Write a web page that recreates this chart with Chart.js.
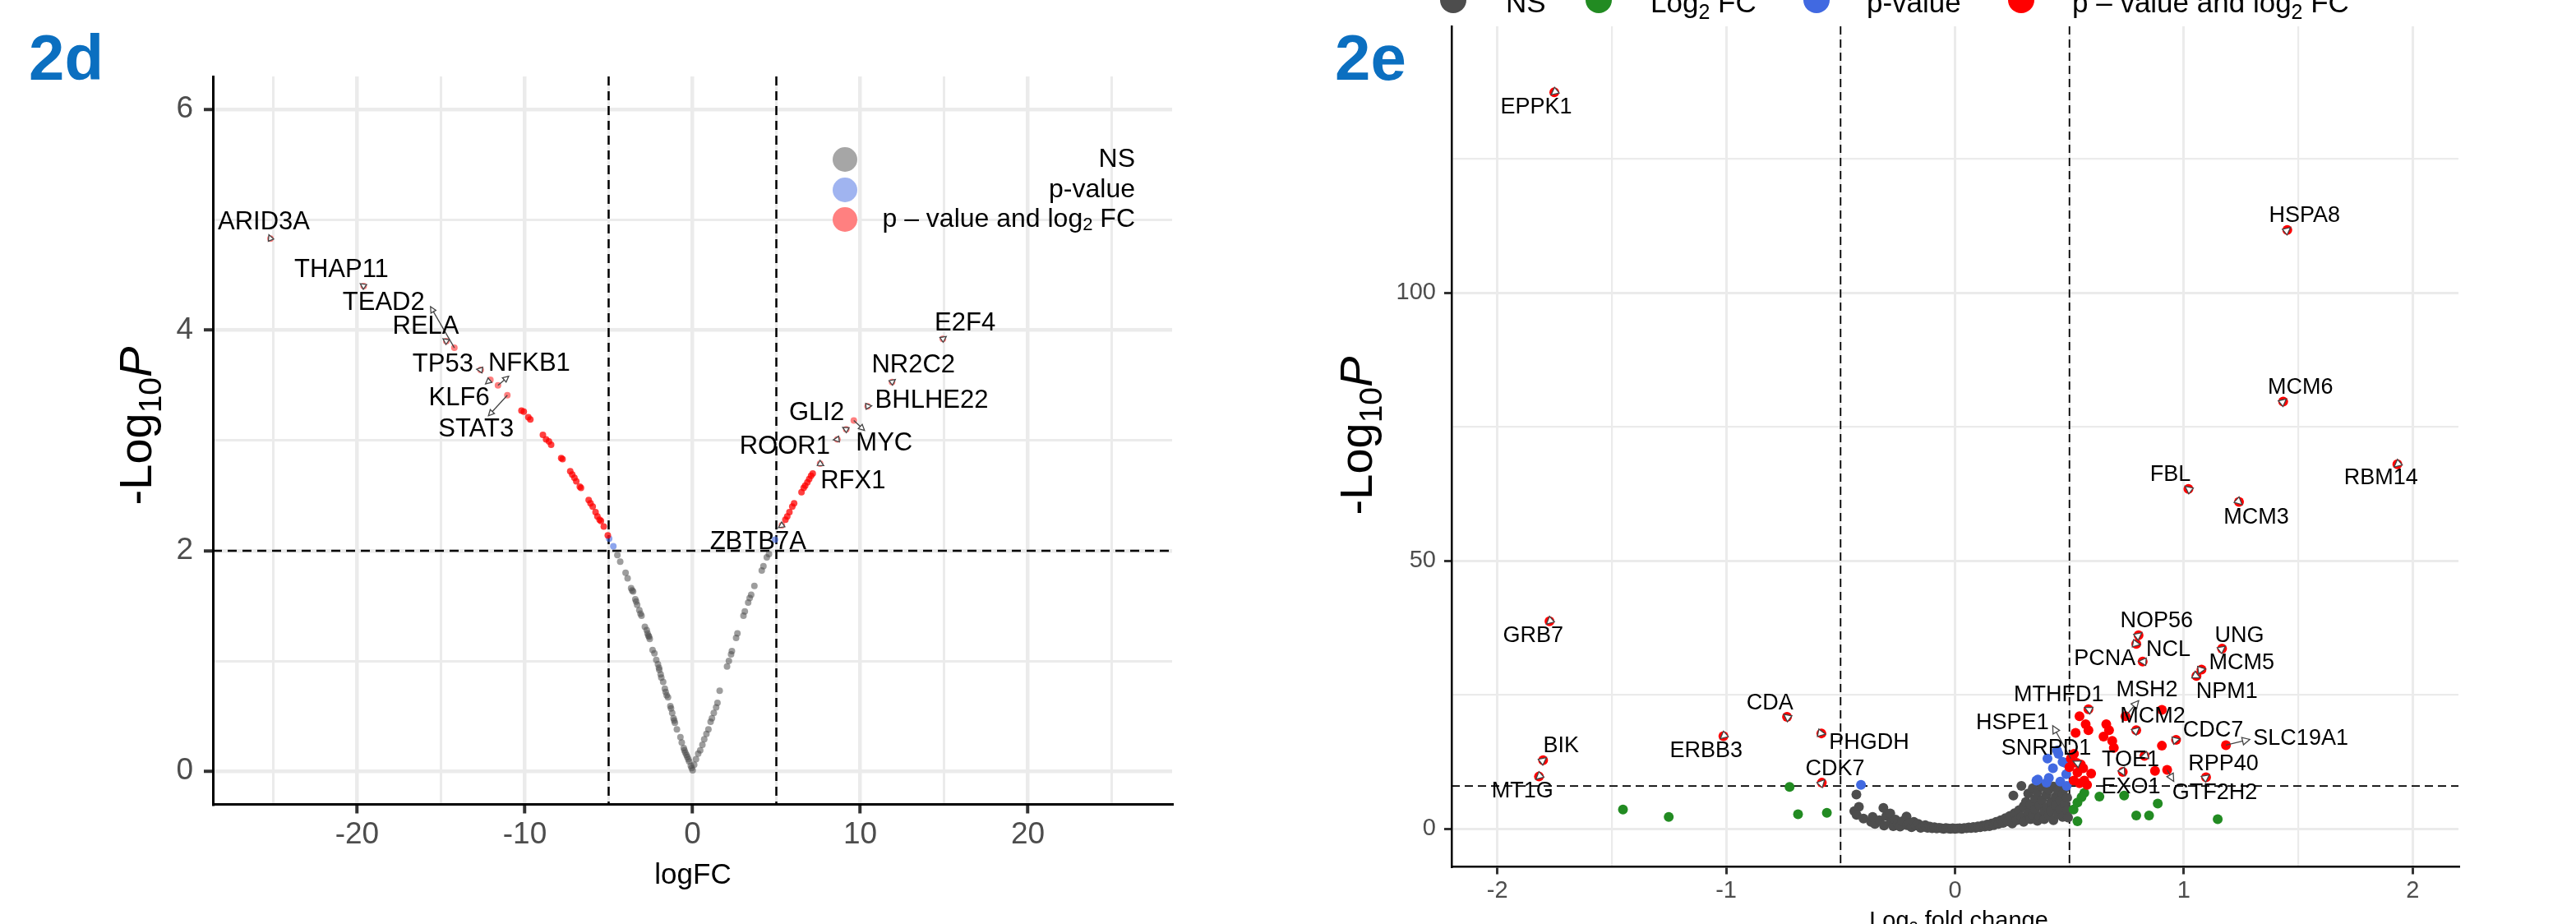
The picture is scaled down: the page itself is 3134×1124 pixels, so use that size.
<!DOCTYPE html>
<html>
<head>
<meta charset="utf-8">
<script src="https://cdn.jsdelivr.net/npm/chart.js@4.4.0/dist/chart.umd.min.js"></script>
<style>
  html, body { margin: 0; padding: 0; background: #fff; }
  #wrap { position: relative; width: 3134px; height: 1124px; overflow: hidden; }
  #c2d { position: absolute; left: 0; top: 0; }
  #c2e { position: absolute; left: 1568px; top: 0; }
</style>
</head>
<body>
<div id="wrap">
  <canvas id="c2d" width="1568" height="1124"></canvas>
  <canvas id="c2e" width="1566" height="1124"></canvas>
</div>
<script>
// ===== 2d DATA =====
const dNsX = [-4.48, -4.31, -3.99, -3.87, -3.66, -3.54, -3.41, -3.30, -3.17, -3.04,
  -2.84, -2.73, -2.63, -2.55, -2.38, -2.27, -2.16, -2.06, -1.98, -1.86,
  -1.75, -1.65, -1.54, -1.46, -1.32, -1.21, -1.13, -1.05, -0.93, -0.72,
  -0.64, -0.52, -0.43, -0.31, -0.20, -0.10, 0.01,
  -3.60, -3.36, -3.10, -2.68, -2.59, -2.00, -1.90, -1.60, -1.28, -1.09,
  -0.48, -0.36, -0.25, -0.05,
  0.10, 0.21, 0.34, 0.46, 0.59, 0.70, 0.83, 0.95, 1.08, 1.16,
  1.27, 1.41, 1.49, 1.62, 2.06, 2.17, 2.30, 2.35, 2.60, 2.68,
  3.04, 3.12, 3.32, 3.41, 3.50, 3.69, 4.13, 4.23, 4.43, 4.56];
const dNsY = [1.96, 1.90, 1.80, 1.75, 1.66, 1.63, 1.56, 1.51, 1.46, 1.41,
  1.31, 1.28, 1.23, 1.20, 1.10, 1.07, 1.01, 0.97, 0.92, 0.85,
  0.81, 0.75, 0.69, 0.67, 0.59, 0.53, 0.48, 0.44, 0.38, 0.31,
  0.26, 0.21, 0.17, 0.13, 0.09, 0.05, 0.01,
  1.64, 1.54, 1.43, 1.25, 1.22, 0.94, 0.88, 0.72, 0.57, 0.46,
  0.19, 0.15, 0.11, 0.03,
  0.06, 0.11, 0.16, 0.19, 0.24, 0.29, 0.34, 0.38, 0.45, 0.48,
  0.53, 0.58, 0.62, 0.73, 0.95, 1.00, 1.06, 1.09, 1.21, 1.25,
  1.41, 1.45, 1.53, 1.57, 1.60, 1.68, 1.82, 1.86, 1.94, 1.97];
const dPvX = [-4.97, -4.72, 4.92];
const dPvY = [2.11, 2.04, 2.10];
const dSigX = [-10.20, -10.06, -9.79, -9.67, -8.92, -8.73, -8.56, -8.43, -7.83, -7.75,
  -7.29, -7.17, -7.04, -6.93, -6.72, -6.65, -6.19, -6.08, -5.95, -5.78,
  -5.67, -5.54, -5.46, -5.29, -5.05,
  5.54, 5.65, 5.78, 5.95, 6.06, 6.50, 6.63, 6.72, 6.85, 6.96, 7.07, 7.17];
const dSigY = [3.27, 3.26, 3.21, 3.19, 3.05, 3.01, 2.99, 2.96, 2.84, 2.83,
  2.72, 2.69, 2.66, 2.63, 2.58, 2.57, 2.46, 2.43, 2.40, 2.35,
  2.31, 2.28, 2.27, 2.22, 2.14,
  2.28, 2.31, 2.35, 2.40, 2.43, 2.53, 2.57, 2.59, 2.62, 2.65, 2.68, 2.70];
const dGenes = ['ARID3A', 'THAP11', 'TEAD2', 'RELA', 'TP53', 'NFKB1', 'KLF6', 'STAT3',
  'E2F4', 'NR2C2', 'BHLHE22', 'GLI2', 'MYC', 'ROOR1', 'RFX1', 'ZBTB7A'];
const dGeneX = [-25.17, -19.61, -14.20, -14.68, -12.63, -11.60, -12.05, -11.04,
  14.93, 11.90, 10.44, 9.17, 9.62, 8.64, 7.61, 5.33];
const dGeneY = [4.83, 4.40, 3.84, 3.90, 3.64, 3.50, 3.55, 3.41,
  3.92, 3.53, 3.31, 3.10, 3.18, 3.01, 2.79, 2.23];
const dXTicks = [-20, -10, 0, 10, 20];
const dXMinor = [-25, -15, -5, 5, 15, 25];
const dYTicks = [0, 2, 4, 6];
const dYMinor = [1, 3, 5];
const dCutFC = 5, dCutP = 2;

// ===== 2e DATA =====
const eNsX = [-0.431, -0.42, -0.44, -0.43, -0.40, -0.367, -0.36, -0.35, -0.33, -0.313,
  -0.31, -0.30, -0.283, -0.28, -0.27, -0.26, -0.25, -0.24, -0.23, -0.212,
  -0.21, -0.20, -0.19, -0.18, -0.17, -0.16, -0.15, -0.14, -0.13, -0.12,
  -0.11, -0.10, -0.09, -0.08, -0.07, -0.06, -0.05, -0.04, -0.03, -0.02,
  -0.01, 0.00, 0.01, 0.02, 0.03, 0.04, 0.05, 0.06, 0.07, 0.08,
  0.09, 0.10, 0.11, 0.12, 0.13, 0.14, 0.15, 0.16, 0.17, 0.18,
  0.19, 0.20, 0.21, 0.22, 0.23, 0.24, 0.25, 0.255, 0.26, 0.27,
  0.28, 0.29, 0.29, 0.30, 0.30, 0.31, 0.32, 0.32, 0.33, 0.33,
  0.34, 0.34, 0.35, 0.35, 0.36, 0.36, 0.37, 0.37, 0.38, 0.38,
  0.39, 0.39, 0.40, 0.40, 0.41, 0.41, 0.42, 0.42, 0.43, 0.43,
  0.44, 0.44, 0.45, 0.45, 0.46, 0.46, 0.47, 0.47, 0.48, 0.48,
  0.49, 0.49, 0.494];
const eNsY = [6.4, 4.1, 3.3, 2.6, 1.9, 1.3, 2.2, 0.9, 1.6, 3.9,
  0.6, 2.4, 2.85, 1.2, 0.5, 1.7, 0.9, 0.4, 1.4, 2.3,
  0.7, 1.1, 0.3, 1.3, 0.6, 0.9, 0.2, 0.5, 0.7, 0.2,
  0.4, 0.1, 0.3, 0.05, 0.2, 0.1, 0.0, 0.15, 0.05, 0.0,
  0.1, 0.0, 0.05, 0.1, 0.0, 0.15, 0.1, 0.25, 0.15, 0.35,
  0.2, 0.45, 0.3, 0.6, 0.4, 0.8, 0.5, 1.0, 0.7, 1.3,
  0.9, 1.6, 1.1, 2.0, 1.4, 2.4, 1.0, 6.2, 2.9, 1.6,
  3.5, 8.0, 2.2, 4.2, 1.3, 5.0, 3.0, 6.6, 1.8, 4.5,
  7.6, 2.6, 5.6, 3.6, 1.5, 6.8, 4.4, 2.2, 7.9, 5.4,
  3.2, 1.8, 6.4, 4.0, 7.3, 2.6, 5.0, 3.4, 7.9, 1.6,
  6.0, 4.4, 2.8, 7.2, 5.3, 3.6, 6.6, 2.2, 4.6, 7.6,
  3.4, 5.8, 2.1];
const eFcX = [-1.451, -1.251, -0.723, -0.686, -0.560, 0.518, 0.535, 0.535, 0.553, 0.565,
  0.631, 0.739, 0.792, 0.848, 0.886, 1.148];
const eFcY = [3.6, 2.2, 7.8, 2.7, 3.0, 3.6, 4.9, 1.4, 5.9, 6.7,
  6.0, 6.2, 2.5, 2.5, 4.7, 1.8];
const ePvX = [-0.411, 0.356, 0.362, 0.400, 0.404, 0.410, 0.428, 0.446, 0.452, 0.460,
  0.470, 0.482, 0.486, 0.488];
const ePvY = [8.2, 9.0, 9.2, 8.6, 13.1, 9.5, 11.3, 14.6, 14.0, 8.8,
  12.5, 12.3, 10.2, 8.0];
const eSigX = [0.500, 0.519, 0.520, 0.527, 0.535, 0.544, 0.544, 0.550, 0.560, 0.565,
  0.571, 0.577, 0.583, 0.595, 0.649, 0.661, 0.673, 0.687, 0.694, 0.874,
  0.904, 0.904];
const eSigY = [11.5, 9.0, 14.0, 17.9, 10.5, 21.0, 8.5, 12.0, 11.3, 9.0,
  19.5, 8.2, 18.4, 10.3, 17.2, 19.5, 18.4, 16.4, 15.1, 10.8,
  22.2, 15.5];
const eGenes = ['EPPK1', 'HSPA8', 'MCM6', 'RBM14', 'FBL', 'MCM3', 'GRB7', 'NOP56', 'NCL', 'PCNA',
  'UNG', 'MCM5', 'NPM1', 'MTHFD1', 'MSH2', 'MCM2', 'CDC7', 'SLC19A1', 'TOE1', 'EXO1',
  'GTF2H2', 'RPP40', 'HSPE1', 'SNRPD1', 'BIK', 'MT1G', 'ERBB3', 'CDA', 'PHGDH', 'CDK7'];
const eGeneX = [-1.751, 1.452, 1.434, 1.933, 1.020, 1.241, -1.772, 0.802, 0.792, 0.820,
  1.167, 1.077, 1.055, 0.583, 0.745, 0.792, 0.966, 1.184, 0.828, 0.733,
  0.927, 1.097, 0.506, 0.532, -1.800, -1.818, -1.012, -0.734, -0.584, -0.582];
const eGeneY = [137.4, 111.7, 79.7, 68.0, 63.4, 61.0, 38.7, 36.1, 34.5, 31.2,
  33.6, 29.7, 28.5, 22.3, 21.0, 18.4, 16.6, 15.6, 13.6, 10.6,
  11.0, 9.6, 13.1, 12.3, 12.8, 9.75, 17.3, 20.9, 17.8, 8.6];
const eXTicks = [-2, -1, 0, 1, 2];
const eXMinor = [-1.5, -0.5, 0.5, 1.5];
const eYTicks = [0, 50, 100];
const eYMinor = [25, 75, 125];
const eCutFC = 0.5, eCutP = 8;

// label placement: [dx, dy] from the point in px, optional arrow tip [tx, ty]
const dLabelPos = {
  ARID3A: [-8, -20], THAP11: [-27, -19], TEAD2: [-86, -55, -29, -50], RELA: [-25, -18],
  TP53: [-46, -6], NFKB1: [38, -26, 13, -11], KLF6: [-38, 22, -6, 5], STAT3: [-38, 42, -23, 25],
  E2F4: [27, -19], NR2C2: [26, -20], BHLHE22: [78, -7], GLI2: [-36, -20],
  MYC: [37, 28, 13, 12], ROOR1: [-64, 9], RFX1: [40, 22], ZBTB7A: [-29, 20]
};
const eLabelPos = {
  EPPK1: [-22, 18], HSPA8: [21, -17], MCM6: [21, -17], RBM14: [-20, 17], FBL: [-22, -17],
  MCM3: [21, 19], GRB7: [-20, 18], NOP56: [22, -17], NCL: [39, 7], PCNA: [-46, -3],
  UNG: [21, -16], MCM5: [49, -8], NPM1: [37, 19], MTHFD1: [-36, -17], MSH2: [26, -32, 16, -19],
  MCM2: [20, -17], CDC7: [45, -11], SLC19A1: [91, -8, 29, -7], TOE1: [-17, 5], EXO1: [10, 18],
  GTF2H2: [58, 28, 8, 14], RPP40: [21, -16], HSPE1: [-71, -43, -22, -40], SNRPD1: [-37, -17],
  BIK: [22, -17], MT1G: [-20, 18], ERBB3: [-21, 18], CDA: [-21, -16], PHGDH: [58, 11], CDK7: [16, -17]
};

const FONT = "'Liberation Sans', Arial, Helvetica, sans-serif";

function pts(xs, ys) { return xs.map((x, i) => ({ x: x, y: ys[i] })); }

function axis(min, max, major, minor, o) {
  const all = major.concat(minor).sort((a, b) => a - b);
  const isMajor = v => major.indexOf(v) >= 0;
  return {
    type: 'linear', min: min, max: max,
    afterBuildTicks: s => { s.ticks = all.map(v => ({ value: v })); },
    afterFit: s => { if (o.width) s.width = o.width; if (o.height) s.height = o.height; },
    ticks: {
      autoSkip: false, maxRotation: 0, padding: o.pad, color: '#4D4D4D',
      font: { family: FONT, size: o.font },
      callback: v => isMajor(v) ? String(v) : ''
    },
    grid: {
      color: '#EBEBEB',
      lineWidth: c => (c.tick && isMajor(c.tick.value)) ? o.major : o.minor,
      tickLength: o.tick, tickWidth: o.tickW,
      tickColor: c => (c.tick && isMajor(c.tick.value)) ? '#333333' : 'rgba(0,0,0,0)'
    },
    border: { display: true, color: '#000000', width: o.border }
  };
}

// text in pieces: [text, 0 normal | 1 subscript | 2 italic]
function richText(ctx, parts, x, y, align, size) {
  const fontOf = p => (p[1] === 2 ? 'italic ' : '') + Math.round(p[1] === 1 ? size * 0.7 : size) + 'px ' + FONT;
  let w = 0;
  parts.forEach(p => { ctx.font = fontOf(p); w += ctx.measureText(p[0]).width; });
  let cx = align === 'center' ? x - w / 2 : (align === 'right' ? x - w : x);
  ctx.textAlign = 'left';
  parts.forEach(p => {
    ctx.font = fontOf(p);
    ctx.fillText(p[0], cx, y + (p[1] === 1 ? size * 0.22 : 0));
    cx += ctx.measureText(p[0]).width;
  });
}

function arrowHead(ctx, tx, ty, ang, len, half) {
  const bx = tx - Math.cos(ang) * len, by = ty - Math.sin(ang) * len;
  const nx = -Math.sin(ang) * half, ny = Math.cos(ang) * half;
  ctx.beginPath();
  ctx.moveTo(tx, ty);
  ctx.lineTo(bx + nx, by + ny);
  ctx.lineTo(bx - nx, by - ny);
  ctx.closePath();
  ctx.fillStyle = '#ffffff';
  ctx.fill();
  ctx.stroke();
}

function volcanoPlugin(o) {
  return {
    id: 'volcano',
    beforeDatasetsDraw(chart) {
      const { ctx, chartArea: a, scales: { x, y } } = chart;
      ctx.save();
      ctx.strokeStyle = '#000';
      ctx.lineWidth = o.dashW;
      ctx.setLineDash(o.dash);
      [-o.cutFC, o.cutFC].forEach(v => {
        const px = x.getPixelForValue(v);
        ctx.beginPath(); ctx.moveTo(px, a.top); ctx.lineTo(px, a.bottom); ctx.stroke();
      });
      const py = y.getPixelForValue(o.cutP);
      ctx.beginPath(); ctx.moveTo(a.left, py); ctx.lineTo(a.right, py); ctx.stroke();
      ctx.restore();
    },
    afterDatasetsDraw(chart) {
      const { ctx, scales: { x, y } } = chart;
      ctx.save();
      ctx.textAlign = 'center';
      ctx.textBaseline = 'middle';
      o.genes.forEach((g, i) => {
        const px = x.getPixelForValue(o.gx[i]), py = y.getPixelForValue(o.gy[i]);
        const L = o.pos[g];
        let ex, ey;
        if (L.length > 2) { ex = px + L[2]; ey = py + L[3]; }
        else { const d = Math.hypot(L[0], L[1]); ex = px + L[0] / d * o.tipR; ey = py + L[1] / d * o.tipR; }
        const ang = Math.atan2(ey - py, ex - px);
        ctx.strokeStyle = '#444';
        ctx.lineWidth = 1.3;
        if (Math.hypot(ex - px, ey - py) > 12) {
          ctx.beginPath(); ctx.moveTo(px, py); ctx.lineTo(ex, ey); ctx.stroke();
        }
        arrowHead(ctx, ex, ey, ang, o.headLen, o.headHalf);
        ctx.fillStyle = '#000';
        ctx.font = o.labelFont + 'px ' + FONT;
        ctx.fillText(g, px + L[0], py + L[1]);
      });
      ctx.restore();
    },
    afterDraw(chart) {
      const ctx = chart.ctx;
      ctx.save();
      // panel tag
      ctx.fillStyle = '#0B6FC0';
      ctx.font = 'bold 78px ' + FONT;
      ctx.textAlign = 'left';
      ctx.textBaseline = 'alphabetic';
      ctx.fillText(o.tag, o.tagX, 97);
      // axis titles
      ctx.fillStyle = '#000';
      richText(ctx, o.xTitle, o.xTitleX, o.xTitleY, 'center', o.xTitleSize);
      ctx.save();
      ctx.translate(o.yTitleX, o.yTitleY);
      ctx.rotate(-Math.PI / 2);
      richText(ctx, [['-Log', 0], ['10', 1], ['P', 2]], 0, 0, 'center', 56);
      ctx.restore();
      // legend
      o.legend.forEach(it => {
        ctx.beginPath();
        ctx.arc(it.cx, it.cy, it.r, 0, Math.PI * 2);
        ctx.fillStyle = it.color;
        ctx.fill();
        ctx.fillStyle = '#000';
        ctx.textBaseline = it.base;
        richText(ctx, it.text, it.tx, it.ty, it.align, it.size);
      });
      ctx.restore();
    }
  };
}

function scatterSet(data, color, r) {
  return { data: data, backgroundColor: color, pointBackgroundColor: color, borderWidth: 0,
    pointBorderWidth: 0, pointRadius: r, pointHoverRadius: r, showLine: false };
}

const lblLog2 = [['p \u2013 value and log', 0], ['2', 1], [' FC', 0]];

// ===== 2d =====
new Chart(document.getElementById('c2d'), {
  type: 'scatter',
  data: {
    datasets: [
      scatterSet(pts(dGeneX, dGeneY), 'rgba(255,0,0,0.5)', 4),
      scatterSet(pts(dSigX, dSigY), 'rgba(255,0,0,0.75)', 4),
      scatterSet(pts(dPvX, dPvY), 'rgba(65,105,225,0.6)', 4),
      scatterSet(pts(dNsX, dNsY), 'rgba(77,77,77,0.55)', 4)
    ]
  },
  options: {
    responsive: false, animation: false, events: [],
    layout: { padding: { left: 0, top: 93, right: 142, bottom: 0 } },
    plugins: { legend: { display: false }, tooltip: { enabled: false } },
    scales: {
      x: axis(-28.6, 28.6, dXTicks, dXMinor, { height: 145.5, pad: 4, font: 37, major: 4.5, minor: 3, tick: 11, tickW: 4, border: 3 }),
      y: axis(-0.3, 6.3, dYTicks, dYMinor, { width: 259, pad: 13, font: 37, major: 4.5, minor: 3, tick: 11, tickW: 4, border: 3 })
    }
  },
  plugins: [volcanoPlugin({
    cutFC: dCutFC, cutP: dCutP, dash: [11, 7], dashW: 2.5,
    genes: dGenes, gx: dGeneX, gy: dGeneY, pos: dLabelPos, labelFont: 31,
    tipR: 5, headLen: 7, headHalf: 3.5,
    tag: '2d', tagX: 35,
    xTitle: [['logFC', 0]], xTitleX: 843, xTitleY: 1075, xTitleSize: 35,
    yTitleX: 184, yTitleY: 518,
    legend: [
      { cx: 1028, cy: 194, r: 15, color: '#A6A6A6', text: [['NS', 0]], tx: 1381, ty: 194, align: 'right', size: 32, base: 'middle' },
      { cx: 1028, cy: 231, r: 15, color: '#A0B4F0', text: [['p-value', 0]], tx: 1381, ty: 231, align: 'right', size: 32, base: 'middle' },
      { cx: 1028, cy: 267, r: 15, color: '#FF8080', text: lblLog2, tx: 1381, ty: 267, align: 'right', size: 32, base: 'middle' }
    ]
  })]
});

// ===== 2e =====
new Chart(document.getElementById('c2e'), {
  type: 'scatter',
  data: {
    datasets: [
      scatterSet(pts(eGeneX, eGeneY), '#FF0000', 6),
      scatterSet(pts(eSigX, eSigY), '#FF0000', 6),
      scatterSet(pts(ePvX, ePvY), '#4169E1', 6),
      scatterSet(pts(eFcX, eFcY), '#228B22', 6),
      scatterSet(pts(eNsX, eNsY), '#4D4D4D', 6)
    ]
  },
  options: {
    responsive: false, animation: false, events: [],
    layout: { padding: { left: 0, top: 32, right: 143, bottom: 0 } },
    plugins: { legend: { display: false }, tooltip: { enabled: false } },
    scales: {
      x: axis(-2.2, 2.2, eXTicks, eXMinor, { height: 69.5, pad: 3, font: 29, major: 3, minor: 2.2, tick: 9, tickW: 3, border: 2.5 }),
      y: axis(-7.1, 149.7, eYTicks, eYMinor, { width: 198, pad: 10, font: 29, major: 3, minor: 2.2, tick: 9, tickW: 3, border: 2.5 })
    }
  },
  plugins: [volcanoPlugin({
    cutFC: eCutFC, cutP: eCutP, dash: [10, 6], dashW: 1.8,
    genes: eGenes, gx: eGeneX, gy: eGeneY, pos: eLabelPos, labelFont: 27,
    tipR: 5, headLen: 9, headHalf: 4.5,
    tag: '2e', tagX: 56,
    xTitle: [['Log', 0], ['2', 1], [' fold change', 0]], xTitleX: 815, xTitleY: 1129, xTitleSize: 29,
    yTitleX: 101, yTitleY: 530,
    legend: [
      { cx: 200, cy: 0, r: 16, color: '#4D4D4D', text: [['NS', 0]], tx: 264, ty: 15, align: 'left', size: 35, base: 'alphabetic' },
      { cx: 377, cy: 0, r: 16, color: '#228B22', text: [['Log', 0], ['2', 1], [' FC', 0]], tx: 440, ty: 15, align: 'left', size: 35, base: 'alphabetic' },
      { cx: 642, cy: 0, r: 16, color: '#4169E1', text: [['p-value', 0]], tx: 703, ty: 15, align: 'left', size: 35, base: 'alphabetic' },
      { cx: 891, cy: 0, r: 16, color: '#FF0000', text: lblLog2, tx: 953, ty: 15, align: 'left', size: 35, base: 'alphabetic' }
    ]
  })]
});
</script>
</body>
</html>
